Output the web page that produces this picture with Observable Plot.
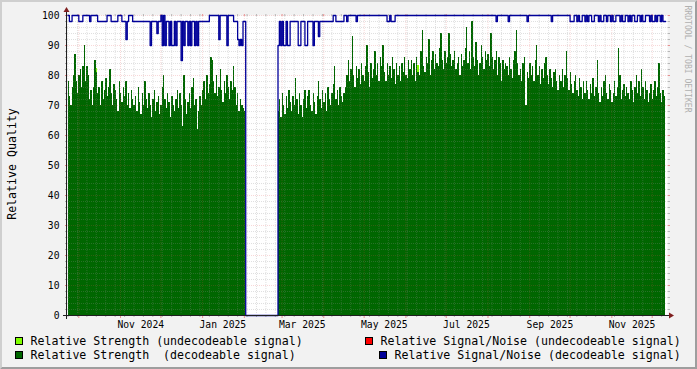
<!DOCTYPE html>
<html><head><meta charset="utf-8">
<script src="https://cdn.jsdelivr.net/npm/d3@7"></script>
<script src="https://cdn.jsdelivr.net/npm/@observablehq/plot@0.6"></script>
<style>
html,body{margin:0;padding:0;background:#f2f2f2;}
#chart svg{display:block;}
</style></head><body><div id="chart"></div>
<script>
// ---- data (daily values) ----
const start1 = "2024-09-23";
const strength1 = [78,73,70,76,80,87,78,74,80,82,
 76,83,90,78,83,80,72,75,70,76,
 85,81,74,76,70,78,72,75,79,73,
 76,82,74,70,77,75,72,68,78,74,
 71,76,73,78,70,74,69,75,72,70,
 73,68,76,71,67,74,70,78,72,69,
 74,70,66,72,75,68,71,73,67,70,
 76,80,72,69,74,71,66,73,70,68,
 72,75,69,74,70,63,80,72,67,71,
 74,69,76,79,70,72,62,68,73,70,
 75,78,72,80,74,77,86,85,78,74,
 80,73,76,82,75,71,78,74,80,76,
 72,78,75,83,76,70,74,68,72,70,
 69,68];
const snr1 = [100,98,98,100,100,100,100,100,98,98,
 98,100,100,100,100,100,98,100,100,100,
 100,100,98,98,98,98,98,98,98,100,
 100,100,98,98,98,98,98,100,100,100,
 98,98,98,92,98,100,100,100,98,98,
 98,98,98,98,98,98,98,98,98,98,
 98,90,98,98,98,98,94,98,98,100,
 90,100,90,98,98,90,98,90,90,98,
 90,98,98,98,85,98,90,98,98,90,
 98,90,98,98,90,98,90,98,98,98,
 98,98,98,98,98,100,100,100,100,100,
 100,100,92,100,100,100,100,100,90,100,
 100,100,100,98,98,98,92,90,92,90,
 98,98];
const gapStart = "2025-02-02";
const gapStrength = 0, gapSnr = 0;
const start2 = "2025-02-26";
const strength2 = [68,72,66,74,70,67,73,69,75,71,
 68,73,70,79,72,67,74,70,66,72,
 75,69,73,75,70,68,74,71,67,73,
 78,72,69,75,71,74,68,76,72,70,
 74,77,83,72,75,70,76,73,71,74,
 76,80,85,78,82,93,80,76,83,79,
 82,77,84,80,78,83,90,81,76,84,
 79,82,88,80,84,78,86,83,90,81,
 78,84,80,83,79,86,82,77,84,80,
 83,78,84,81,86,80,79,85,82,85,
 80,84,78,86,81,80,88,95,83,81,
 86,84,92,80,85,88,82,87,84,83,
 89,94,85,82,88,84,86,94,87,83,
 85,88,82,84,86,80,87,83,85,89,
 96,84,88,82,98,86,83,91,85,80,
 84,90,86,82,88,85,87,83,94,86,
 82,85,88,80,86,84,78,85,82,84,
 83,80,86,82,79,85,88,95,84,80,
 82,78,84,86,70,81,79,84,80,83,
 78,85,90,80,83,77,82,79,84,86,
 80,77,82,79,76,81,82,78,75,80,
 78,82,76,80,88,79,75,81,77,74,
 78,80,75,73,79,76,72,78,74,78,
 75,72,77,74,79,73,76,85,74,71,
 76,73,78,80,74,72,77,75,71,74,
 78,73,76,89,80,72,75,77,73,76,
 74,72,78,75,71,76,80,74,78,73,
 82,76,72,78,75,71,74,77,72,75,
 78,73,76,84,74,71,75,73];
const snr2 = [90,98,90,98,90,90,98,90,90,98,
 98,98,98,98,98,90,90,98,98,98,
 90,90,98,98,98,98,90,98,98,98,
 93,98,98,98,98,98,98,98,98,98,
 98,100,100,98,98,98,98,98,98,100,
 100,98,100,100,100,100,100,100,98,100,
 100,100,100,100,100,100,100,100,100,100,
 100,100,100,100,100,100,100,100,100,100,
 100,98,98,100,98,98,98,100,100,100,
 100,100,100,100,100,100,100,100,100,100,
 100,100,100,100,100,100,100,100,100,100,
 100,100,100,100,100,100,100,100,100,100,
 100,100,100,100,100,100,100,100,100,100,
 100,100,100,100,100,100,100,100,100,100,
 100,100,100,100,100,100,100,100,100,100,
 100,100,100,100,100,100,100,100,100,100,
 100,100,98,100,100,100,100,100,100,100,
 100,98,100,100,100,100,100,100,100,100,
 100,100,100,100,100,98,100,100,100,100,
 100,100,100,100,100,100,100,100,100,100,
 100,100,100,98,100,100,100,100,100,100,
 100,100,100,100,100,100,100,98,98,98,
 100,100,98,100,98,98,100,100,98,100,
 98,100,100,98,98,100,100,100,98,100,
 98,98,100,100,98,100,100,98,100,98,
 98,100,100,100,98,100,98,98,100,100,
 98,100,98,100,100,98,98,100,100,98,
 100,98,98,100,100,100,98,100,98,98,
 100,98,100,100,98,100,98,98];
const undecodeableDates = ["2024-10-14", "2025-06-10"];
const undecodeableValues = [82.5, 83.5];
const xDomain = ["2024-09-22T14:30:00Z", "2025-12-12T08:50:00Z"];
const yLabelValues = [0,10,20,30,40,50,60,70,80,90,100];
const xLabelMonths = ["2024-11-01","2025-01-01","2025-03-01","2025-05-01","2025-07-01","2025-09-01","2025-11-01"];
const legendLabels = ["Relative Strength (undecodeable signal)", "Relative Signal/Noise (undecodeable signal)",
  "Relative Strength  (decodeable signal)", "Relative Signal/Noise (decodeable signal)"];
const legendColors = ["#80ff00", "#ff0000", "#006600", "#000099"];

// ---- build tables ----
const DAY = 864e5;
const utc = s => new Date(s.length <= 10 ? s + "T00:00:00Z" : s);
function build(startStr, s, q) {
  const t0 = utc(startStr).getTime();
  return s.map((v, i) => ({date: new Date(t0 + i*DAY), end: new Date(t0 + (i+1)*DAY), strength: v, snr: q[i]}));
}
const rows = [
  ...build(start1, strength1, snr1),
  {date: utc(gapStart), end: utc(start2), strength: gapStrength, snr: gapSnr},
  ...build(start2, strength2, snr2)
];
const last = rows[rows.length-1];
const linePts = [...rows.map(d => ({date: d.date, snr: d.snr})), {date: last.end, snr: last.snr}];
const undec = undecodeableDates.map((d, i) => ({date: utc(d), end: new Date(utc(d).getTime() + DAY), value: undecodeableValues[i]}));

const dom = xDomain.map(d => new Date(d));
const xMajor = d3.utcMonth.range(dom[0], dom[1]);
const xMinor = d3.utcMonday.range(dom[0], dom[1]).filter(d => d.getUTCDate() !== 1);
const yMajor = yLabelValues;
const yMinor = d3.range(0, 101, 2).filter(v => v % 10 !== 0);
const xLabelDates = xLabelMonths.map(m => new Date(utc(m).getTime() + 15*DAY));

const GRID = "#8f8f8f", MGRID = "#de4f4f";
const FONT = "DejaVu Sans Mono";

const chart = Plot.plot({
  width: 697, height: 369,
  marginLeft: 67, marginRight: 30, marginTop: 15, marginBottom: 54,
  style: {background: "#f2f2f2", fontFamily: FONT, fontSize: "9.7px", color: "black"},
  x: {type: "utc", domain: dom},
  y: {domain: [0, 100]},
  marks: [
    Plot.frame({fill: "white", stroke: "none"}),
    Plot.rectY(undec, {x1: "date", x2: "end", y: "value", fill: "#80ff00", shapeRendering: "crispEdges"}),
    Plot.rectY(rows, {x1: "date", x2: "end", y: "strength", fill: "#006600", shapeRendering: "crispEdges"}),
    // minor grid
    Plot.ruleY(yMinor, {stroke: GRID, strokeOpacity: 0.28, strokeDasharray: "1,1", insetLeft: -2, insetRight: -2}),
    Plot.ruleX(xMinor, {stroke: GRID, strokeOpacity: 0.28, strokeDasharray: "1,1", insetTop: 1, insetBottom: 1}),
    // major grid
    Plot.ruleY(yMajor, {stroke: MGRID, strokeOpacity: 0.22, strokeDasharray: "1,1", insetLeft: -2, insetRight: -2}),
    Plot.ruleX(xMajor, {stroke: MGRID, strokeOpacity: 0.22, strokeDasharray: "1,1", insetTop: 1, insetBottom: 1}),
    // solid grid-end ticks
    Plot.axisY(yMinor, {anchor: "left", tickSize: 2, tickFormat: () => "", stroke: GRID, strokeOpacity: 0.6, label: null}),
    Plot.axisY(yMinor, {anchor: "right", tickSize: 2, tickFormat: () => "", stroke: GRID, strokeOpacity: 0.6, label: null}),
    Plot.axisY(yMajor, {anchor: "left", tickSize: 2, tickFormat: () => "", stroke: MGRID, strokeOpacity: 0.6, label: null}),
    Plot.axisY(yMajor, {anchor: "right", tickSize: 2, tickFormat: () => "", stroke: MGRID, strokeOpacity: 0.6, label: null}),
    Plot.axisX(xMinor, {anchor: "bottom", tickSize: 2, tickFormat: () => "", stroke: GRID, strokeOpacity: 0.6, label: null}),
    Plot.axisX(xMinor, {anchor: "top", tickSize: 2, tickFormat: () => "", stroke: GRID, strokeOpacity: 0.6, label: null}),
    Plot.axisX(xMajor, {anchor: "bottom", tickSize: 3, tickFormat: () => "", stroke: MGRID, strokeOpacity: 0.6, label: null}),
    Plot.axisX(xMajor, {anchor: "top", tickSize: 2, tickFormat: () => "", stroke: MGRID, strokeOpacity: 0.6, label: null}),
    // SNR line
    Plot.line(linePts, {x: "date", y: "snr", curve: "step-after", stroke: "#000099", strokeWidth: 1.3}),
    // labels
    Plot.axisY(yLabelValues, {anchor: "left", tickSize: 0, tickPadding: 8, tickFormat: d => String(d), label: null, fill: "black"}),
    Plot.axisX(xLabelDates, {anchor: "bottom", tickSize: 0, tickPadding: 6, tickFormat: d3.utcFormat("%b %Y"), label: null, fill: "black"})
  ]
});
document.getElementById("chart").appendChild(chart);

// ---- decorations: axes arrows, legend, titles, border ----
const svg = d3.select(chart);
const xs = chart.scale("x"), ys = chart.scale("y");
const X0 = xs.range[0], X1 = xs.range[1], Y0 = ys.range[0], Y1 = ys.range[1];
const deco = svg.append("g").attr("text-anchor", "start");
const AX = "#1f1f1f", ARROW = "#7f1f1f";
deco.append("line").attr("x1", X0 - 4).attr("x2", X1 + 2).attr("y1", Y0 + 0.5).attr("y2", Y0 + 0.5).attr("stroke", AX);
deco.append("line").attr("x1", X0 - 0.5).attr("x2", X0 - 0.5).attr("y1", Y0 + 4).attr("y2", Y1 - 3).attr("stroke", AX);
deco.append("path").attr("d", `M${X1+2},${Y0-2.5}L${X1+2},${Y0+3.5}L${X1+7},${Y0+0.5}Z`).attr("fill", ARROW);
deco.append("path").attr("d", `M${X0-3.5},${Y1-3}L${X0+2.5},${Y1-3}L${X0-0.5},${Y1-8}Z`).attr("fill", ARROW);

deco.append("text").attr("transform", "translate(15.5,164) rotate(-90)").attr("text-anchor", "middle")
  .attr("font-family", FONT).attr("font-size", 11.6).attr("fill", "black").text("Relative Quality");
deco.append("text").attr("transform", "translate(685,59) rotate(90)").attr("text-anchor", "middle")
  .attr("font-family", FONT).attr("font-size", 8.1).attr("fill", "#b0b0b0").text("RRDTOOL / TOBI OETIKER");

const legPos = [[15, 337], [365, 337], [15, 351], [379, 351]];
legendLabels.forEach((lab, i) => {
  const [lx, ly] = legPos[i];
  deco.append("rect").attr("x", lx + 0.5).attr("y", ly + 0.5).attr("width", 7).attr("height", 7)
    .attr("fill", legendColors[i]).attr("stroke", "black");
  deco.append("text").attr("x", lx + 15.5).attr("y", ly + 4).attr("dy", "0.35em").attr("text-anchor", "start")
    .attr("font-family", FONT).attr("font-size", 11.6).attr("fill", "black")
    .style("white-space", "pre").attr("xml:space", "preserve").text(lab);
});
// 3d border
deco.append("path").attr("d", "M0,369L2,367L2,2L695,2L697,0L0,0Z").attr("fill", "#cfcfcf");
deco.append("path").attr("d", "M2,367L695,367L695,2L697,0L697,369L0,369Z").attr("fill", "#9e9e9e");
</script></body></html>
